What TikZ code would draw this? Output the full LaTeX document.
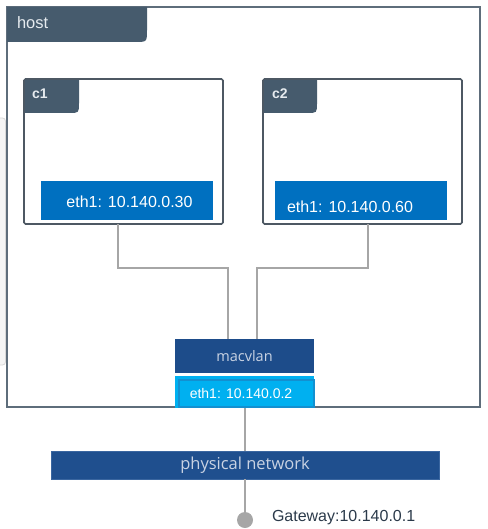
\documentclass[tikz,border=0pt]{standalone}
\usepackage{fontspec}
\setmainfont{Liberation Sans}
\newfontfamily\osans{Open Sans}
\definecolor{tabcol}{HTML}{465B6D}
\definecolor{hostline}{HTML}{5E6D7B}
\definecolor{cline}{HTML}{4D5863}
\definecolor{ethc}{HTML}{0070C0}
\definecolor{macv}{HTML}{1D4C8A}
\definecolor{macvtxt}{HTML}{C9D3E3}
\definecolor{phys}{HTML}{1F4F8E}
\definecolor{physline}{HTML}{3A66A0}
\definecolor{hosteth}{HTML}{00B0F0}
\definecolor{hostethline}{HTML}{1390D0}
\definecolor{conn}{HTML}{A6A6A6}
\definecolor{gwtxt}{HTML}{2B3A4A}
\definecolor{tabtxt}{HTML}{E6EBEF}
\definecolor{ghostfill}{HTML}{F5F5F5}
\definecolor{ghostline}{HTML}{D8D8D8}
\begin{document}
\begin{tikzpicture}[x=1pt,y=-1pt,
  every node/.style={inner sep=0pt, outer sep=0pt},
  hostbox/.style={draw=hostline, line width=1.3pt, fill=white},
  cbox/.style={draw=cline, line width=1.6pt, fill=white, rounded corners=1.5pt},
  ethbox/.style={fill=ethc},
  ethtxt/.style={text=white, font=\fontsize{16}{19}\selectfont},
  tablbl/.style={text=tabtxt, anchor=west},
  conn/.style={draw=conn, line width=2pt},
]
\useasboundingbox (0,0) rectangle (487,529);
% faint panel edge at left
\draw[fill=ghostfill, draw=ghostline, rounded corners=3pt, line width=0.8pt] (-6,118) rectangle (5.5,365);

% host
\node[hostbox, minimum width=473pt, minimum height=400pt] (host) at (243.5,207) {};
\fill[tabcol] (host.north west) -- (147,7) -- (147,30) .. controls (147,42) .. (135,42) -- (7,42) -- cycle;
\node[tablbl, font=\fontsize{16.5}{19}\selectfont] (hostlbl) at (17,23) {host};

% connector bend points
\coordinate (c1drop) at (118,224);
\coordinate (c2drop) at (368,224);
\coordinate (m1) at (228,268);
\coordinate (m2) at (257,268);

% containers
\node[cbox, minimum width=199pt, minimum height=145pt] (c1) at (123.5,151.5) {};
\fill[tabcol] (24.8,79.8) -- (79,79.8) -- (79,103) .. controls (79,113) .. (69,113) -- (24.8,113) -- cycle;
\node[tablbl, font=\bfseries\fontsize{14}{17}\selectfont] (c1lbl) at (32,94) {c1};
\node[ethbox, minimum width=172pt, minimum height=39pt] (c1eth) at (127,200.5) {};
\node[ethtxt] (c1ethtxt) at (129.5,202) {eth1: 10.140.0.30};

\node[cbox, minimum width=199pt, minimum height=145pt] (c2) at (362.5,151.5) {};
\fill[tabcol] (263.8,79.8) -- (317,79.8) -- (317,103) .. controls (317,113) .. (307,113) -- (263.8,113) -- cycle;
\node[tablbl, font=\bfseries\fontsize{14}{17}\selectfont] (c2lbl) at (272,94) {c2};
\node[ethbox, minimum width=172pt, minimum height=39pt] (c2eth) at (361,200.5) {};
\node[ethtxt, anchor=west] (c2ethtxt) at (287,207) {eth1: 10.140.0.60};

% macvlan and host eth1
\node[fill=macv, minimum width=139pt, minimum height=34pt, text=macvtxt,
      font=\osans\fontsize{14.5}{17}\selectfont] (macvlan) at (244.5,356) {macvlan};
\node[fill=hosteth, minimum width=139pt, minimum height=32pt] (heth) at (244.5,392) {};
\draw[hostethline, line width=1.2pt] (179,380) rectangle (314,407);
\node[text=white, font=\fontsize{14}{17}\selectfont] (hethtxt) at (241,393) {eth1: 10.140.0.2};

\draw[conn] (c1.south -| c1drop) |- (m1) -- (macvlan.north -| m1);
\draw[conn] (c2.south -| c2drop) |- (m2) -- (macvlan.north -| m2);

% physical network
\node[fill=phys, draw=physline, line width=0.8pt, minimum width=388pt, minimum height=28pt,
      text=macvtxt, font=\osans\fontsize{16.5}{19}\selectfont] (phys) at (245,465) {physical network};
\node[circle, fill=conn, minimum size=16pt] (gw) at (245,520) {};
\draw[conn] (phys.north |- heth.south) -- (phys.north);
\draw[conn] (phys.south) -- (gw.north);
\node[anchor=west, text=gwtxt, font=\fontsize{16}{19}\selectfont] (gwlbl) at (272,518) {Gateway:10.140.0.1};
\end{tikzpicture}
\end{document}
